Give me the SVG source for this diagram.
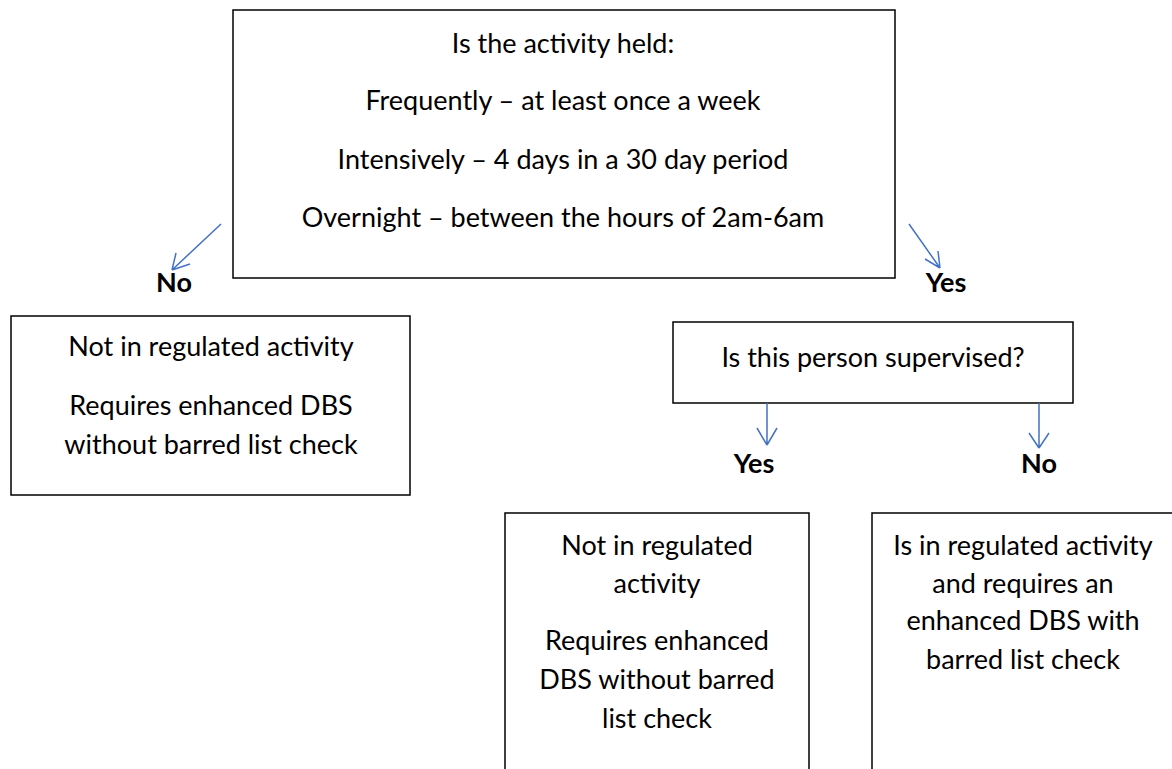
<svg xmlns="http://www.w3.org/2000/svg" width="1172" height="769" viewBox="0 0 1172 769">
<style>
.box{fill:#fff;stroke:#000;stroke-width:1.5}
.t{font-family:Lato,"Open Sans","Liberation Sans",sans-serif;font-size:27px;fill:#000;text-anchor:middle}
.lbl{font-family:Lato,"Open Sans","Liberation Sans",sans-serif;font-size:27px;font-weight:bold;fill:#000;text-anchor:middle}
.arr{stroke:#4472C4;stroke-width:1.5;fill:none}
</style>
<rect width="1172" height="769" fill="#fff"/>
<g id="top">
<rect class="box" x="233" y="10" width="662" height="268"/>
<text class="t" x="563" y="53">Is the activity held:</text>
<text class="t" x="563" y="110">Frequently – at least once a week</text>
<text class="t" x="563" y="169">Intensively – 4 days in a 30 day period</text>
<text class="t" x="563" y="227">Overnight – between the hours of 2am-6am</text>
</g>
<g id="left">
<rect class="box" x="11" y="316" width="399" height="179"/>
<text class="t" x="211" y="356">Not in regulated activity</text>
<text class="t" x="211" y="415">Requires enhanced DBS</text>
<text class="t" x="211" y="454">without barred list check</text>
</g>
<g id="supervised">
<rect class="box" x="673" y="322" width="400" height="81"/>
<text class="t" x="873" y="367">Is this person supervised?</text>
</g>
<g id="bottomleft">
<rect class="box" x="505" y="513" width="304" height="270"/>
<text class="t" x="657" y="555">Not in regulated</text>
<text class="t" x="657" y="593">activity</text>
<text class="t" x="657" y="650">Requires enhanced</text>
<text class="t" x="657" y="689">DBS without barred</text>
<text class="t" x="657" y="728">list check</text>
</g>
<g id="bottomright">
<rect class="box" x="872" y="513" width="320" height="270"/>
<text class="t" x="1023" y="555">Is in regulated activity</text>
<text class="t" x="1023" y="593">and requires an</text>
<text class="t" x="1023" y="630">enhanced DBS with</text>
<text class="t" x="1023" y="669">barred list check</text>
</g>
<g id="connectors">
<path class="arr" d="M221 224 L172 270 M172 270 L176 253 M172 270 L190 264"/>
<path class="arr" d="M909 224 L940 268 M940 268 L938 251 M940 268 L925 259"/>
<path class="arr" d="M767 403 L767 445 M767 445 L757 428 M767 445 L777 428"/>
<path class="arr" d="M1039 403 L1039 448 M1039 448 L1029 433 M1039 448 L1049 433"/>
</g>
<g id="labels">
<text class="lbl" x="174" y="292">No</text>
<text class="lbl" x="946" y="292">Yes</text>
<text class="lbl" x="754" y="473">Yes</text>
<text class="lbl" x="1039" y="473">No</text>
</g>
</svg>
